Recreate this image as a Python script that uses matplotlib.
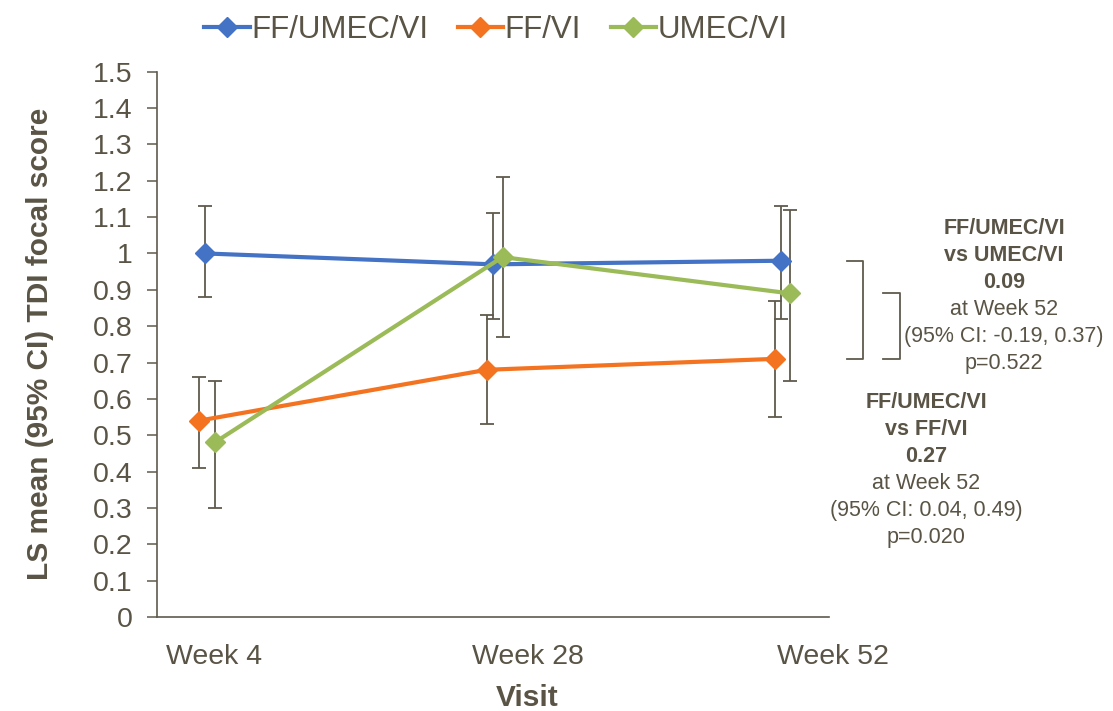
"""TDI focal score by visit, LS mean with 95% CI for three treatments."""
import numpy as np
import matplotlib
matplotlib.use('Agg')
from matplotlib import pyplot as plt
from matplotlib.lines import Line2D

plt.rcParams['font.family'] = ['Liberation Sans', 'DejaVu Sans']

visits = ['Week 4', 'Week 28', 'Week 52']
treatments = ['FF/UMEC/VI', 'FF/VI', 'UMEC/VI']

ff_umec_vi = [1.00, 0.97, 0.98]
ff_umec_vi_lo = [0.88, 0.82, 0.82]
ff_umec_vi_hi = [1.13, 1.11, 1.13]

ff_vi = [0.54, 0.68, 0.71]
ff_vi_lo = [0.41, 0.53, 0.55]
ff_vi_hi = [0.66, 0.83, 0.87]

umec_vi = [0.48, 0.99, 0.89]
umec_vi_lo = [0.30, 0.77, 0.65]
umec_vi_hi = [0.65, 1.21, 1.12]

notes_top = ['FF/UMEC/VI', 'vs UMEC/VI', '0.09', 'at Week 52',
             '(95% CI: -0.19, 0.37)', 'p=0.522']
notes_bottom = ['FF/UMEC/VI', 'vs FF/VI', '0.27', 'at Week 52',
                '(95% CI: 0.04, 0.49)', 'p=0.020']

colors = ['#4472C4', '#F37321', '#9BBB59']
text_col = '#595445'
bar_col = '#5F5A4D'

fig = plt.figure(figsize=(11.13, 7.11), dpi=100)
ax = fig.add_axes([0.1411, 0.1322, 0.6037, 0.7670])

idx = np.arange(len(visits))
offsets = [0.0, -0.022, 0.033]
series = [
    (ff_umec_vi, ff_umec_vi_lo, ff_umec_vi_hi),
    (ff_vi, ff_vi_lo, ff_vi_hi),
    (umec_vi, umec_vi_lo, umec_vi_hi),
]
for (val, lo, hi), off, col, lab in zip(series, offsets, colors, treatments):
    val, lo, hi = np.array(val), np.array(lo), np.array(hi)
    x = idx + off
    ax.errorbar(x, val, yerr=[val - lo, hi - val], fmt='none',
                ecolor=bar_col, elinewidth=1.3, capsize=5, capthick=1.3,
                zorder=2)
    ax.plot(x, val, color=col, lw=3, marker='D', ms=10, label=lab,
            zorder=3)

ax.set_ylim(0, 1.5)
ax.set_xlim(-0.167, 2.167)
ax.set_yticks(np.arange(0, 1.51, 0.1))
ax.set_yticklabels([f'{v:g}' for v in np.round(np.arange(0, 1.51, 0.1), 1)])
ax.set_xticks([])
ax.tick_params(axis='y', length=7.5, width=1.1, color=bar_col,
               labelcolor=text_col, labelsize=20.5, pad=10)
for side in ('top', 'right'):
    ax.spines[side].set_visible(False)
for side in ('left', 'bottom'):
    ax.spines[side].set_color(bar_col)
    ax.spines[side].set_linewidth(1.2)

# visit labels sit a little right of the plotted points
for pos, name in zip([0.03, 1.12, 2.18], visits):
    ax.text(pos, -0.073, name, transform=ax.get_xaxis_transform(),
            ha='center', va='center', fontsize=20.5, color=text_col)

ax.set_ylabel('LS mean (95% CI) TDI focal score', fontsize=21.5,
              fontweight='bold', color=text_col, labelpad=28)
fig.text(527 / 1113, 1 - 698 / 711, 'Visit', ha='center', va='center',
         fontsize=21.5, fontweight='bold', color=text_col)

# brackets linking the Week 52 comparisons
wk52 = 2
for x0, x1, y_top, y_bot in [(2.229, 2.285, ff_umec_vi[wk52], ff_vi[wk52]),
                             (2.354, 2.413, umec_vi[wk52], ff_vi[wk52])]:
    ax.plot([x0, x1, x1, x0], [y_top, y_top, y_bot, y_bot], color=bar_col,
            lw=1.3, clip_on=False)


def note_block(lines, xc, y0, step=26.9):
    for i, txt in enumerate(lines):
        weight = 'bold' if i < 3 else 'normal'
        fig.text(xc / 1113, 1 - (y0 + i * step) / 711, txt, ha='center',
                 va='center', fontsize=15.5, fontweight=weight,
                 color=text_col)


note_block(notes_top, 1004, 229)
note_block(notes_bottom, 926, 403)

handles = [Line2D([], [], color=c, lw=3, marker='D', ms=10)
           for c in colors]
fig.legend(handles, treatments, loc='center', ncol=3,
           bbox_to_anchor=(496 / 1113, 1 - 30 / 711), frameon=False,
           fontsize=22.5, handlelength=1.45, handletextpad=0.05,
           columnspacing=0.95, labelcolor=text_col, borderpad=0)

fig.savefig('out.png', dpi=100)
